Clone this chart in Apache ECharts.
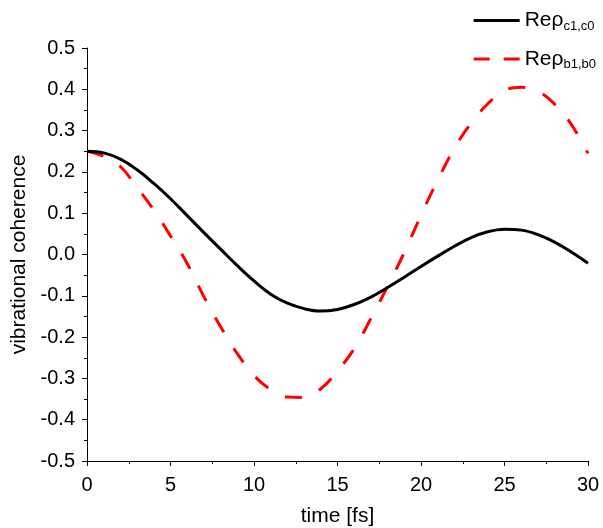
<!DOCTYPE html>
<html>
<head>
<meta charset="utf-8">
<script src="https://cdn.jsdelivr.net/npm/echarts@6/dist/echarts.min.js"></script>
<style>
	html, body { margin: 0; padding: 0; background: #fff; }
	#chart { width: 603px; height: 528px; }
</style>
</head>
<body>
<div id="chart"></div>
<script>
// time axis (fs)
var times = [0, 1, 2, 3, 4, 5, 6, 7, 8, 9, 10, 11, 12, 13, 14, 15, 16, 17, 18, 19, 20, 21, 22, 23, 24, 25, 26, 27, 28, 29, 30];
// Re rho c1,c0 (black solid)
var rhoC = [0.250, 0.246, 0.231, 0.205, 0.172, 0.135, 0.094, 0.053, 0.013, -0.027, -0.064, -0.096, -0.118, -0.131, -0.137, -0.133,
	-0.121, -0.103, -0.080, -0.055, -0.029, -0.004, 0.020, 0.041, 0.055, 0.061, 0.059, 0.048, 0.030, 0.006, -0.021];
// Re rho b1,b0 (red dashed)
var rhoB = [0.250, 0.238, 0.213, 0.162, 0.108, 0.045, -0.022, -0.102, -0.175, -0.240, -0.293, -0.327, -0.345, -0.346, -0.325, -0.282,
	-0.228, -0.155, -0.077, 0.005, 0.095, 0.180, 0.257, 0.318, 0.365, 0.397, 0.405, 0.395, 0.364, 0.315, 0.245];
var subs = { c: 'c1,c0', b: 'b1,b0' };

function pairs(ys) {
	return times.map(function(t, i) { return [t, ys[i]]; });
}

var font = 'Liberation Sans, Arial, sans-serif';
var myChart = echarts.init(document.getElementById('chart'));
var option = {
	animation: false,
	grid: { left: 87, right: 15, top: 48, bottom: 67, outerBoundsMode: 'none', containLabel: false },
	legend: {
		orient: 'vertical',
		right: 2,
		top: 5,
		itemWidth: 46,
		itemHeight: 12,
		itemGap: 16,
		itemStyle: { opacity: 0 },
		data: [
			{ name: 'c', lineStyle: { width: 3 } },
			{ name: 'b', lineStyle: { width: 3, type: [16, 14] } }
		],
		formatter: function(name) {
			return '{m|Reρ}{s|' + subs[name] + '}';
		},
		textStyle: {
			rich: {
				m: { fontFamily: font, fontSize: 21, color: '#000' },
				s: { fontFamily: font, fontSize: 13, color: '#000', padding: [11, 0, 0, 0] }
			}
		}
	},
	xAxis: {
		type: 'value',
		min: 0,
		max: 30,
		interval: 5,
		name: 'time [fs]',
		nameLocation: 'middle',
		nameGap: 45,
		nameTextStyle: { fontFamily: font, fontSize: 21, color: '#000' },
		axisLine: { show: true, onZero: false, lineStyle: { color: '#000', width: 1 } },
		axisTick: { show: true, length: 5, lineStyle: { color: '#000' } },
		minorTick: { show: true, splitNumber: 2, length: 3, lineStyle: { color: '#000' } },
		axisLabel: { fontFamily: font, fontSize: 20, color: '#000', margin: 14 },
		splitLine: { show: false }
	},
	yAxis: {
		type: 'value',
		min: -0.5,
		max: 0.5,
		interval: 0.1,
		name: 'vibrational coherence',
		nameLocation: 'middle',
		nameGap: 57,
		nameTextStyle: { fontFamily: font, fontSize: 21, color: '#000' },
		axisLine: { show: true, lineStyle: { color: '#000', width: 1 } },
		axisTick: { show: true, length: 5, lineStyle: { color: '#000' } },
		minorTick: { show: true, splitNumber: 2, length: 3, lineStyle: { color: '#000' } },
		axisLabel: {
			fontFamily: font, fontSize: 20, color: '#000', margin: 12,
			formatter: function(v) { return v.toFixed(1); }
		},
		splitLine: { show: false }
	},
	series: [{
		name: 'c',
		type: 'line',
		data: pairs(rhoC),
		smooth: 0.4,
		symbol: 'none',
		lineStyle: { color: '#000', width: 3 },
		itemStyle: { color: '#000' },
		z: 3
	}, {
		name: 'b',
		type: 'line',
		data: pairs(rhoB),
		smooth: 0.4,
		symbol: 'none',
		lineStyle: { color: '#ff0000', width: 3, type: [17, 19], cap: 'butt' },
		itemStyle: { color: '#ff0000' },
		z: 2
	}]
};
myChart.setOption(option);
</script>
</body>
</html>
